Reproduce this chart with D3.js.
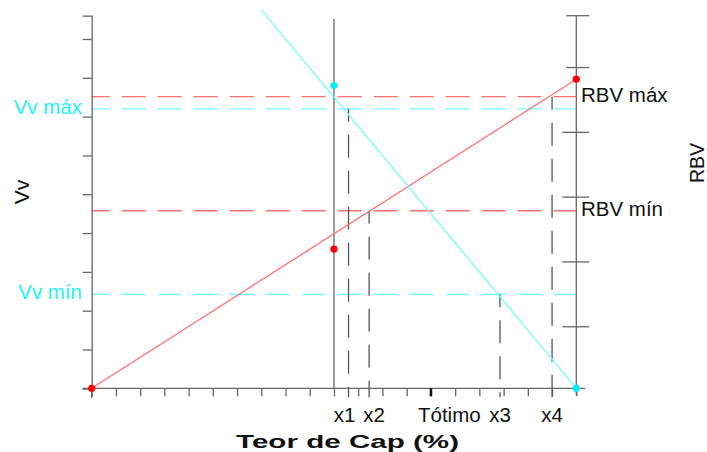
<!DOCTYPE html>
<html>
<head>
<meta charset="utf-8">
<script src="https://cdn.jsdelivr.net/npm/d3@7"></script>
<style>
  body { margin: 0; background: #fff; }
  svg text { font-family: "Liberation Sans", Arial, sans-serif; }
</style>
</head>
<body>
<svg id="chart" width="707" height="452"></svg>
<script>
// values
const teorDomain = [0, 20];
const vvDomain = [0, 9.6];
const rbvDomain = [0.5, 58];

const rbvLine = [[0, 0.5], [20, 48.2]];      // RBV vs teor
const vvLine = [[7, 9.75], [20, 0]];         // Vv vs teor
const rbvPoints = [[0, 0.5], [10, 22], [20, 48.2]];
const vvPoints = [[10, 7.8], [20, 0]];

const vvLimits = [{ name: "Vv máx", value: 7.2 }, { name: "Vv mín", value: 2.42 }];
const rbvLimits = [{ name: "RBV máx", value: 45.5 }, { name: "RBV mín", value: 27.9 }];

// x markers: which curve/limit they drop from
const markers = [
    { name: "x1", teor: 10.6, from: "vv", level: 7.2, dx: -4 },
    { name: "x2", teor: 11.45, from: "rbv", level: 27.9, dx: 5 },
    { name: "x3", teor: 16.85, from: "vv", level: 2.42, dx: 0 },
    { name: "x4", teor: 19.0, from: "rbv", level: 45.5, dx: 0 }
];
const tOtimo = 14;
const refTeor = 10;

const svg = d3.select("#chart");
const mLeft = 91.7, mRight = 576.3, mTop = 15.7, mBottom = 388.3;

const x = d3.scaleLinear().domain(teorDomain).range([mLeft, mRight]);
const vv = d3.scaleLinear().domain(vvDomain).range([mBottom, mTop]);
const rbv = d3.scaleLinear().domain(rbvDomain).range([mBottom, mTop]);

const axisColor = "#666";
const red = "#ff7070", cyan = "#70ffff";

// dashed limit lines
svg.append("g").selectAll("line")
    .data(rbvLimits)
    .enter().append("line")
    .attr("x1", mLeft).attr("x2", mRight)
    .attr("y1", d => rbv(d.value)).attr("y2", d => rbv(d.value))
    .attr("stroke", red).attr("stroke-width", 1.3)
    .attr("stroke-dasharray", "24,12").attr("stroke-dashoffset", 6);

svg.append("g").selectAll("line")
    .data(vvLimits)
    .enter().append("line")
    .attr("x1", mLeft).attr("x2", mRight)
    .attr("y1", d => vv(d.value)).attr("y2", d => vv(d.value))
    .attr("stroke", cyan).attr("stroke-width", 1.3)
    .attr("stroke-dasharray", "24,12").attr("stroke-dashoffset", 6);

// marker verticals
svg.append("g").selectAll("line")
    .data(markers)
    .enter().append("line")
    .attr("x1", d => x(d.teor)).attr("x2", d => x(d.teor))
    .attr("y1", d => d.from === "vv" ? vv(d.level) : rbv(d.level))
    .attr("y2", mBottom + 9)
    .attr("stroke", "#555").attr("stroke-width", 1.3)
    .attr("stroke-dasharray", "23,13").attr("stroke-dashoffset", 10);

// reference vertical at teor 10
svg.append("line")
    .attr("x1", x(refTeor)).attr("x2", x(refTeor))
    .attr("y1", 19).attr("y2", mBottom)
    .attr("stroke", axisColor).attr("stroke-width", 1.3);

// curves
const lineRbv = d3.line().x(d => x(d[0])).y(d => rbv(d[1]));
const lineVv = d3.line().x(d => x(d[0])).y(d => vv(d[1]));

svg.append("path").datum(rbvLine)
    .attr("d", lineRbv).attr("fill", "none")
    .attr("stroke", red).attr("stroke-width", 1.3);
svg.append("path").datum(vvLine)
    .attr("d", lineVv).attr("fill", "none")
    .attr("stroke", cyan).attr("stroke-width", 1.3);

// left axis (Vv)
const gLeft = svg.append("g").attr("transform", `translate(${mLeft},0)`);
gLeft.call(d3.axisLeft(vv).tickValues(d3.range(0, 10)).tickSize(9).tickSizeOuter(9).tickFormat(""));
gLeft.selectAll("path, line").attr("stroke", axisColor).attr("stroke-width", 1.3);
gLeft.append("line").attr("y1", mBottom).attr("y2", mBottom + 10)
    .attr("stroke", axisColor).attr("stroke-width", 1.3);

// right axis (RBV), ticks on both sides
const gRight = svg.append("g").attr("transform", `translate(${mRight},0)`);
gRight.append("line").attr("y1", mTop).attr("y2", mBottom + 7)
    .attr("stroke", axisColor).attr("stroke-width", 1.3);
gRight.selectAll("line.tick")
    .data([10, 20, 30, 40, 50, rbvDomain[1]])
    .enter().append("line").attr("class", "tick")
    .attr("x1", d => d === rbvDomain[1] || d === 50 ? -10 : -14).attr("x2", 13)
    .attr("y1", d => rbv(d)).attr("y2", d => rbv(d))
    .attr("stroke", axisColor).attr("stroke-width", 1.3);

// bottom axis
const gBottom = svg.append("g").attr("transform", `translate(0,${mBottom})`);
gBottom.call(d3.axisBottom(x).ticks(20).tickSize(8).tickSizeOuter(0).tickFormat(""));
gBottom.select("path").remove();
gBottom.selectAll("line").attr("stroke", axisColor).attr("stroke-width", 1.3);
gBottom.append("line").attr("x1", mLeft - 9).attr("x2", mRight + 9)
    .attr("stroke", axisColor).attr("stroke-width", 1.3);
gBottom.append("line").attr("x1", x(tOtimo)).attr("x2", x(tOtimo))
    .attr("y1", 0).attr("y2", 8)
    .attr("stroke", "#111").attr("stroke-width", 2.6);

// points
svg.append("g").selectAll("circle")
    .data(rbvPoints)
    .enter().append("circle")
    .attr("cx", d => x(d[0])).attr("cy", d => rbv(d[1])).attr("r", 3.6)
    .attr("fill", "#ff0000");
svg.append("g").selectAll("circle")
    .data(vvPoints)
    .enter().append("circle")
    .attr("cx", d => x(d[0])).attr("cy", d => vv(d[1])).attr("r", 3.6)
    .attr("fill", "#00eeff");

// labels
svg.append("g").selectAll("text")
    .data(vvLimits)
    .enter().append("text")
    .attr("x", 82).attr("y", d => vv(d.value) + 5)
    .attr("text-anchor", "end").attr("font-size", 20.5)
    .attr("fill", "#22f4f4").text(d => d.name);

svg.append("g").selectAll("text")
    .data(rbvLimits)
    .enter().append("text")
    .attr("x", 581).attr("y", d => rbv(d.value) + 5)
    .attr("font-size", 20.5).attr("fill", "#111").text(d => d.name);

svg.append("g").selectAll("text")
    .data(markers)
    .enter().append("text")
    .attr("x", d => x(d.teor) + d.dx).attr("y", 422)
    .attr("text-anchor", "middle").attr("font-size", 20.5)
    .attr("fill", "#111").text(d => d.name);

svg.append("text")
    .attr("x", 418).attr("y", 422)
    .attr("font-size", 20.5).attr("fill", "#111").text("Tótimo");

svg.append("text")
    .attr("x", 236).attr("y", 448)
    .attr("font-size", 19).attr("font-weight", "bold")
    .attr("textLength", 223).attr("lengthAdjust", "spacingAndGlyphs")
    .attr("fill", "#111").text("Teor de Cap (%)");

svg.append("text")
    .attr("transform", "translate(29,192) rotate(-90)")
    .attr("text-anchor", "middle").attr("font-size", 21)
    .attr("fill", "#111").text("Vv");

svg.append("text")
    .attr("transform", "translate(704,163) rotate(-90)")
    .attr("text-anchor", "middle").attr("font-size", 19.5)
    .attr("fill", "#111").text("RBV");
</script>
</body>
</html>
